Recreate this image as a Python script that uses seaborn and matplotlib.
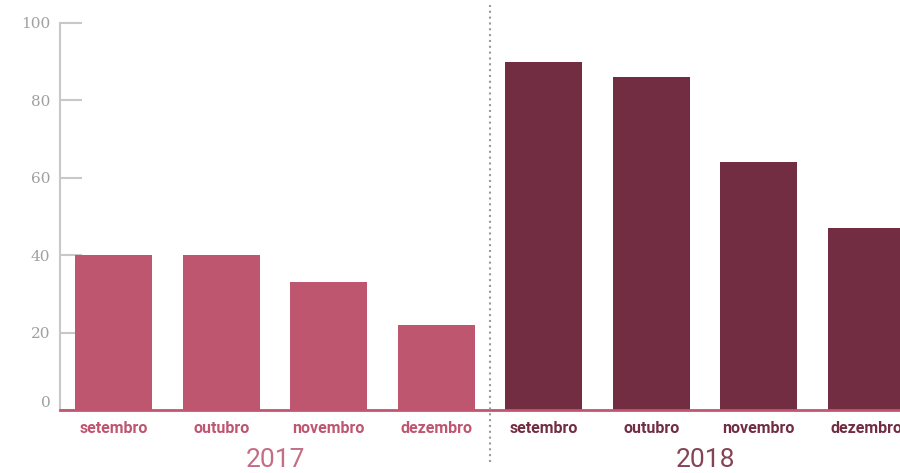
import matplotlib
matplotlib.use("Agg")
import matplotlib.pyplot as plt
import matplotlib.transforms as mtransforms
from matplotlib import font_manager
import seaborn as sns
import pandas as pd

# Data
months = ["setembro", "outubro", "novembro", "dezembro"]
years = ["2017", "2018"]
values_2017 = [40, 40, 33, 22]
values_2018 = [90, 86, 64, 47]
y_ticks = [0, 20, 40, 60, 80, 100]

colors = {"2017": "#bf5670", "2018": "#722d42"}
year_text_colors = {"2017": "#c66d86", "2018": "#844456"}

df = pd.DataFrame({
    "pos": list(range(8)),
    "month": months + months,
    "year": [years[0]] * 4 + [years[1]] * 4,
    "value": values_2017 + values_2018,
})

names = {f.name for f in font_manager.fontManager.ttflist}
narrow = "Liberation Sans Narrow" if "Liberation Sans Narrow" in names else "Roboto"

sns.set_theme(style="white")
fig = plt.figure(figsize=(9, 4.73), dpi=100)
ax = fig.add_axes([60 / 900, 63 / 473, 860 / 900, 387 / 473])

sns.barplot(data=df, x="pos", y="value", hue="year", palette=colors,
            dodge=False, width=0.72, saturation=1, legend=False, ax=ax,
            order=list(range(8)), linewidth=0, edgecolor="none")

ax.set_xlim(-0.5, 7.5)
ax.set_ylim(0, 100)
ax.set_xlabel("")
ax.set_ylabel("")

for s in ["top", "right"]:
    ax.spines[s].set_visible(False)
ax.spines["left"].set_color("#c8c8c8")
ax.spines["left"].set_linewidth(1.5)
ax.spines["bottom"].set_color("#c05670")
ax.spines["bottom"].set_linewidth(2)

# y axis
ax.set_yticks(y_ticks)
ax.set_yticklabels([str(t) for t in y_ticks], family="DejaVu Serif",
                   fontsize=11, color="#a0a0a0")
ax.tick_params(axis="y", direction="in", length=16, width=1.5,
               color="#c8c8c8", pad=7, left=True)
zero_lbl = ax.get_yticklabels()[0]
zero_lbl.set_transform(zero_lbl.get_transform() +
                       mtransforms.ScaledTranslation(0, 6 / 72, fig.dpi_scale_trans))

# x axis: month labels at bar centres, divider ticks between bars
ax.set_xticks(range(8))
ax.set_xticklabels(months + months, family=narrow, fontweight="bold", fontsize=11.5)
ax.tick_params(axis="x", which="major", length=0, pad=8)
for i, lbl in enumerate(ax.get_xticklabels()):
    lbl.set_color(colors["2017"] if i < 4 else colors["2018"])

ax.set_xticks([i + 0.5 for i in range(7)], minor=True)
ax.tick_params(axis="x", which="minor", direction="in", length=6, width=1.5)
for i, t in enumerate(ax.xaxis.get_minor_ticks()):
    t.tick1line.set_color(colors["2017"] if i < 3 else colors["2018"])

# year labels
trans = mtransforms.blended_transform_factory(ax.transData, ax.transAxes)
for xc, yr in [(1.5, "2017"), (5.5, "2018")]:
    ax.text(xc, -0.13, yr, transform=trans, ha="center", va="center",
            family=narrow, fontweight="normal", fontsize=19,
            color=year_text_colors[yr], clip_on=False)

# dotted separator between years
ax.plot([3.5, 3.5], [-0.135, 1.047], transform=trans, color="#9a9a9a",
        linestyle=(0, (1, 1.8)), linewidth=1.5, clip_on=False, zorder=5)

fig.savefig("out.png", dpi=100)
